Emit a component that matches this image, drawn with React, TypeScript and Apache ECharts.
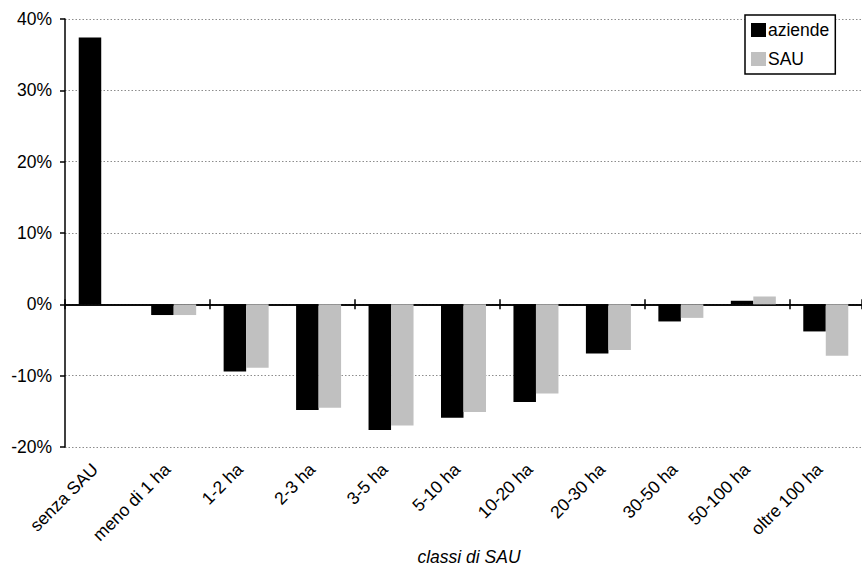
import React, { useEffect, useRef } from "react";
import * as echarts from "echarts";

const categories = [
  "senza SAU",
  "meno di 1 ha",
  "1-2 ha",
  "2-3 ha",
  "3-5 ha",
  "5-10 ha",
  "10-20 ha",
  "20-30 ha",
  "30-50 ha",
  "50-100 ha",
  "oltre 100 ha",
];
const aziende = [37.4, -1.5, -9.4, -14.8, -17.6, -15.9, -13.7, -6.9, -2.4, 0.5, -3.8];
const sau: (number | null)[] = [null, -1.5, -8.9, -14.5, -17.0, -15.1, -12.5, -6.4, -1.9, 1.1, -7.2];
const seriesNames = ["aziende", "SAU"];
const axisTitle = "classi di SAU";
const yMin = -20;
const yMax = 40;
const yStep = 10;

const FONT = "'Liberation Sans', Arial, sans-serif";
const FS = 17.5;

export default function App() {
  const ref = useRef<HTMLDivElement>(null);
  useEffect(() => {
    if (!ref.current) return;
    const chart = echarts.init(ref.current, null, { renderer: "svg" });
    const zeroAxis = (position: "top" | "bottom") => ({
      type: "category",
      data: categories,
      position,
      axisLine: {
        show: true,
        onZero: true,
        onZeroAxisIndex: 0,
        lineStyle: { color: "#000", width: 1.5 },
      },
      axisTick: { show: true, length: 5, lineStyle: { color: "#000", width: 1.5 } },
      axisLabel: { show: false },
      splitLine: { show: false },
    });
    chart.setOption({
      animation: false,
      backgroundColor: "#fff",
      textStyle: { fontFamily: FONT },
      grid: { left: 65, right: -15, top: 19, bottom: 119, containLabel: false },
      legend: {
        data: seriesNames,
        orient: "vertical",
        left: 745,
        top: 15,
        padding: [6, 6, 6, 6],
        itemWidth: 15,
        itemHeight: 14,
        itemGap: 11,
        icon: "rect",
        borderColor: "#000",
        borderWidth: 1.5,
        backgroundColor: "#fff",
        textStyle: { fontSize: FS, color: "#000", fontFamily: FONT, padding: [0, 0, 0, -3] },
      },
      xAxis: [
        {
          type: "category",
          data: categories,
          position: "bottom",
          axisLine: { show: false, onZero: false },
          axisTick: { show: false },
          axisLabel: {
            rotate: 45,
            margin: 13,
            fontSize: FS,
            color: "#000",
            fontFamily: FONT,
            interval: 0,
            padding: [0, 9, 0, 0],
          },
          splitLine: { show: false },
        },
        zeroAxis("bottom"),
        zeroAxis("top"),
      ],
      yAxis: {
        type: "value",
        min: yMin,
        max: yMax,
        interval: yStep,
        axisLine: { show: true, onZero: false, lineStyle: { color: "#000", width: 1.5 } },
        axisTick: { show: true, length: 5, lineStyle: { color: "#000", width: 1.5 } },
        axisLabel: {
          formatter: (v: number) => `${v}%`,
          fontSize: FS,
          color: "#000",
          margin: 13,
          fontFamily: FONT,
        },
        splitLine: { show: true, lineStyle: { color: "#8c8c8c", type: [1.5, 2], width: 1 } },
      },
      series: [
        {
          name: seriesNames[0],
          type: "bar",
          xAxisIndex: 0,
          data: aziende,
          barWidth: 22.5,
          barGap: "0%",
          itemStyle: { color: "#000" },
        },
        {
          name: seriesNames[1],
          type: "bar",
          xAxisIndex: 0,
          data: sau,
          barWidth: 22.5,
          barGap: "0%",
          itemStyle: { color: "#c0c0c0" },
        },
      ],
      graphic: [
        {
          type: "text",
          x: 469,
          y: 557,
          style: {
            text: axisTitle,
            font: `italic ${FS}px ${FONT}`,
            fill: "#000",
            align: "center",
            verticalAlign: "middle",
          },
        },
      ],
    });
    return () => chart.dispose();
  }, []);
  return (
    <div
      ref={ref}
      style={{ position: "fixed", left: 0, top: 0, width: 862, height: 566, background: "#fff" }}
    />
  );
}
